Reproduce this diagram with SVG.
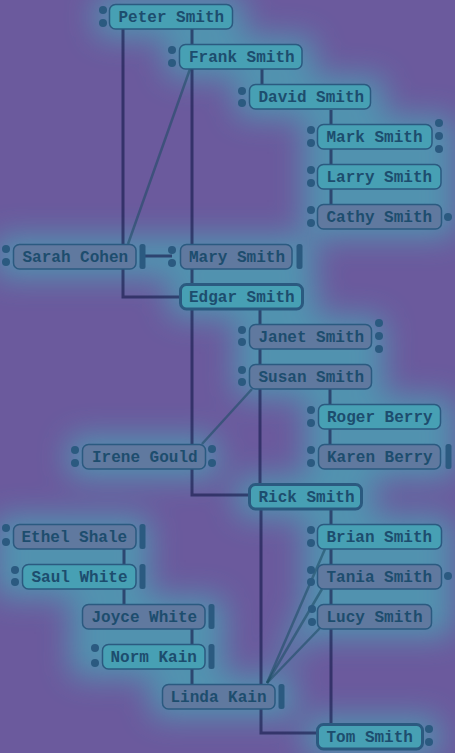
<svg xmlns="http://www.w3.org/2000/svg" width="455" height="753" viewBox="0 0 455 753">
<defs>
<filter id="blur" x="-50%" y="-50%" width="200%" height="200%"><feGaussianBlur stdDeviation="15"/></filter>
<style>
.bg{fill:#6b5a9d}
.glow rect,.glow path{fill:#46aab8}
.ln{fill:none;stroke:#151a4a;stroke-opacity:0.62;stroke-width:3}
.dg{fill:none;stroke:#1a4a60;stroke-opacity:0.55;stroke-width:2.5}
.m{fill:#47a0b4;stroke:#2b5a80;stroke-width:1.5}
.f{fill:#60799f;stroke:#2b5a80;stroke-width:1.5}
.sel{stroke-width:3}
.dot{fill:#2b5a80}
.bar{fill:#2b5a80}
text{font-family:"Liberation Mono","DejaVu Sans Mono",monospace;font-size:16px;font-weight:bold;fill:#1d4d6e}
</style>
</defs>
<rect class="bg" x="0" y="0" width="455" height="753"/>
<g class="glow" filter="url(#blur)" opacity="0.7">
<rect x="95" y="-4" width="150" height="42" rx="10"/>
<rect x="165" y="36" width="150" height="42" rx="10"/>
<rect x="235" y="76" width="150" height="42" rx="10"/>
<rect x="303" y="116" width="152" height="122" rx="10"/>
<rect x="-5" y="236" width="320" height="42" rx="10"/>
<rect x="168" y="276" width="150" height="42" rx="10"/>
<rect x="235" y="316" width="150" height="82" rx="10"/>
<rect x="305" y="396" width="150" height="82" rx="10"/>
<rect x="68" y="436" width="150" height="42" rx="10"/>
<rect x="236" y="476" width="140" height="42" rx="10"/>
<rect x="303" y="516" width="150" height="122" rx="10"/>
<rect x="-5" y="516" width="155" height="82" rx="10"/>
<rect x="70" y="596" width="155" height="82" rx="10"/>
<rect x="150" y="676" width="145" height="42" rx="10"/>
<rect x="305" y="716" width="135" height="42" rx="10"/>
<path d="M267,683 L323,560 L320,628 Z"/>
</g>
<g id="connectors">
<path class="ln" d="M192,29 V44"/>
<path class="ln" d="M123,29 V297 H180"/>
<path class="ln" d="M192,69 V495 H249"/>
<path class="ln" d="M262,69 V84"/>
<path class="dg" d="M190,69 L128,244"/>
<path class="ln" d="M145,256 H172"/>
<path class="ln" d="M331,110 V204"/>
<path class="ln" d="M260,309 V484"/>
<path class="dg" d="M252,389 L202,444"/>
<path class="ln" d="M330,389 V444"/>
<path class="ln" d="M331,508 V724"/>
<path class="ln" d="M261,508 V733 H317"/>
<path class="ln" d="M124,549 V604"/>
<path class="ln" d="M192,629 V684"/>
<path class="dg" d="M267,683 L325,549"/>
<path class="dg" d="M267,683 L322,589"/>
<path class="dg" d="M267,683 L320,628"/>
</g>
<g id="n-peter"><rect class="m" x="109.5" y="4.5" width="123" height="24.5" rx="6"/><circle class="dot" cx="103" cy="10" r="4"/><circle class="dot" cx="103" cy="23" r="4"/><text x="118.5" y="22">Peter Smith</text></g>
<g id="n-frank"><rect class="m" x="179.5" y="44.5" width="122.5" height="24.5" rx="6"/><circle class="dot" cx="172" cy="50" r="4"/><circle class="dot" cx="172" cy="63" r="4"/><text x="189" y="62">Frank Smith</text></g>
<g id="n-david"><rect class="m" x="249.5" y="84.5" width="121" height="24.5" rx="6"/><circle class="dot" cx="242" cy="91" r="4"/><circle class="dot" cx="242" cy="103" r="4"/><text x="258.5" y="102">David Smith</text></g>
<g id="n-mark"><rect class="m" x="317.5" y="124.5" width="114.5" height="24.5" rx="6"/><circle class="dot" cx="311" cy="130" r="4"/><circle class="dot" cx="311" cy="143" r="4"/><circle class="dot" cx="439" cy="123" r="4"/><circle class="dot" cx="439" cy="136" r="4"/><circle class="dot" cx="439" cy="149" r="4"/><text x="326.5" y="142">Mark Smith</text></g>
<g id="n-larry"><rect class="m" x="317.5" y="164.5" width="123.5" height="24.5" rx="6"/><circle class="dot" cx="311" cy="170" r="4"/><circle class="dot" cx="311" cy="183" r="4"/><text x="326.5" y="182">Larry Smith</text></g>
<g id="n-cathy"><rect class="f" x="317.5" y="204.5" width="124" height="24.5" rx="6"/><circle class="dot" cx="311" cy="210" r="4"/><circle class="dot" cx="311" cy="223" r="4"/><circle class="dot" cx="448" cy="217" r="4"/><text x="326.5" y="222">Cathy Smith</text></g>
<g id="n-sarah"><rect class="f" x="13.5" y="244.5" width="122.5" height="24.5" rx="6"/><circle class="dot" cx="6" cy="249" r="4"/><circle class="dot" cx="6" cy="262" r="4"/><rect class="bar" x="139.5" y="244" width="6" height="25" rx="2.5"/><text x="22.5" y="262">Sarah Cohen</text></g>
<g id="n-mary"><rect class="f" x="180.5" y="244.5" width="111.5" height="24.5" rx="6"/><circle class="dot" cx="172" cy="250" r="4"/><circle class="dot" cx="172" cy="263" r="4"/><rect class="bar" x="296.5" y="244" width="6" height="25" rx="2.5"/><text x="189" y="262">Mary Smith</text></g>
<g id="n-edgar"><rect class="m sel" x="180.5" y="284.5" width="122" height="24.5" rx="6"/><text x="189" y="302">Edgar Smith</text></g>
<g id="n-janet"><rect class="f" x="249.5" y="324.5" width="122" height="24.5" rx="6"/><circle class="dot" cx="242" cy="330" r="4"/><circle class="dot" cx="242" cy="342" r="4"/><circle class="dot" cx="379" cy="323" r="4"/><circle class="dot" cx="379" cy="336" r="4"/><circle class="dot" cx="379" cy="349" r="4"/><text x="258.5" y="342">Janet Smith</text></g>
<g id="n-susan"><rect class="f" x="249.5" y="364.5" width="122" height="24.5" rx="6"/><circle class="dot" cx="242" cy="370" r="4"/><circle class="dot" cx="242" cy="382" r="4"/><text x="258.5" y="382">Susan Smith</text></g>
<g id="n-roger"><rect class="m" x="318.5" y="404.5" width="122" height="24.5" rx="6"/><circle class="dot" cx="311" cy="410" r="4"/><circle class="dot" cx="311" cy="423" r="4"/><text x="327" y="422">Roger Berry</text></g>
<g id="n-karen"><rect class="f" x="318.5" y="444.5" width="122" height="24.5" rx="6"/><circle class="dot" cx="311" cy="450" r="4"/><circle class="dot" cx="311" cy="463" r="4"/><rect class="bar" x="445.5" y="444" width="6" height="25" rx="2.5"/><text x="327" y="462">Karen Berry</text></g>
<g id="n-irene"><rect class="f" x="82.5" y="444.5" width="123" height="24.5" rx="6"/><circle class="dot" cx="75" cy="450" r="4"/><circle class="dot" cx="75" cy="463" r="4"/><circle class="dot" cx="212" cy="449" r="4"/><circle class="dot" cx="212" cy="463" r="4"/><text x="92" y="462">Irene Gould</text></g>
<g id="n-rick"><rect class="m sel" x="249.5" y="484.5" width="112" height="24.5" rx="6"/><text x="258.5" y="502">Rick Smith</text></g>
<g id="n-brian"><rect class="m" x="317.5" y="524.5" width="124" height="24.5" rx="6"/><circle class="dot" cx="311" cy="530" r="4"/><circle class="dot" cx="311" cy="543" r="4"/><text x="326.5" y="542">Brian Smith</text></g>
<g id="n-tania"><rect class="f" x="317.5" y="564.5" width="124" height="24.5" rx="6"/><circle class="dot" cx="311" cy="570" r="4"/><circle class="dot" cx="311" cy="582" r="4"/><circle class="dot" cx="448" cy="576" r="4"/><text x="326.5" y="582">Tania Smith</text></g>
<g id="n-lucy"><rect class="f" x="317.5" y="604.5" width="114" height="24.5" rx="6"/><circle class="dot" cx="312" cy="609" r="4"/><circle class="dot" cx="312" cy="622" r="4"/><text x="326.5" y="622">Lucy Smith</text></g>
<g id="n-tom"><rect class="m sel" x="317.5" y="724.5" width="105" height="24.5" rx="6"/><circle class="dot" cx="429" cy="729" r="4"/><circle class="dot" cx="429" cy="742" r="4"/><text x="326.5" y="742">Tom Smith</text></g>
<g id="n-ethel"><rect class="f" x="13.5" y="524.5" width="122.5" height="24.5" rx="6"/><circle class="dot" cx="6" cy="528" r="4"/><circle class="dot" cx="6" cy="542" r="4"/><rect class="bar" x="139.5" y="524" width="6" height="25" rx="2.5"/><text x="21.5" y="542">Ethel Shale</text></g>
<g id="n-saul"><rect class="m" x="22.5" y="564.5" width="113.5" height="24.5" rx="6"/><circle class="dot" cx="15" cy="570" r="4"/><circle class="dot" cx="15" cy="582" r="4"/><rect class="bar" x="139.5" y="564" width="6" height="25" rx="2.5"/><text x="31.5" y="582">Saul White</text></g>
<g id="n-joyce"><rect class="f" x="82.5" y="604.5" width="122.5" height="24.5" rx="6"/><rect class="bar" x="208.5" y="604" width="6" height="25" rx="2.5"/><text x="91.5" y="622">Joyce White</text></g>
<g id="n-norm"><rect class="m" x="102.5" y="644.5" width="102.5" height="24.5" rx="6"/><circle class="dot" cx="95" cy="648" r="4"/><circle class="dot" cx="95" cy="663" r="4"/><rect class="bar" x="208.5" y="644" width="6" height="25" rx="2.5"/><text x="110.5" y="662">Norm Kain</text></g>
<g id="n-linda"><rect class="f" x="162.5" y="684.5" width="112.5" height="24.5" rx="6"/><rect class="bar" x="278.5" y="684" width="6" height="25" rx="2.5"/><text x="170.5" y="702">Linda Kain</text></g>
</svg>
